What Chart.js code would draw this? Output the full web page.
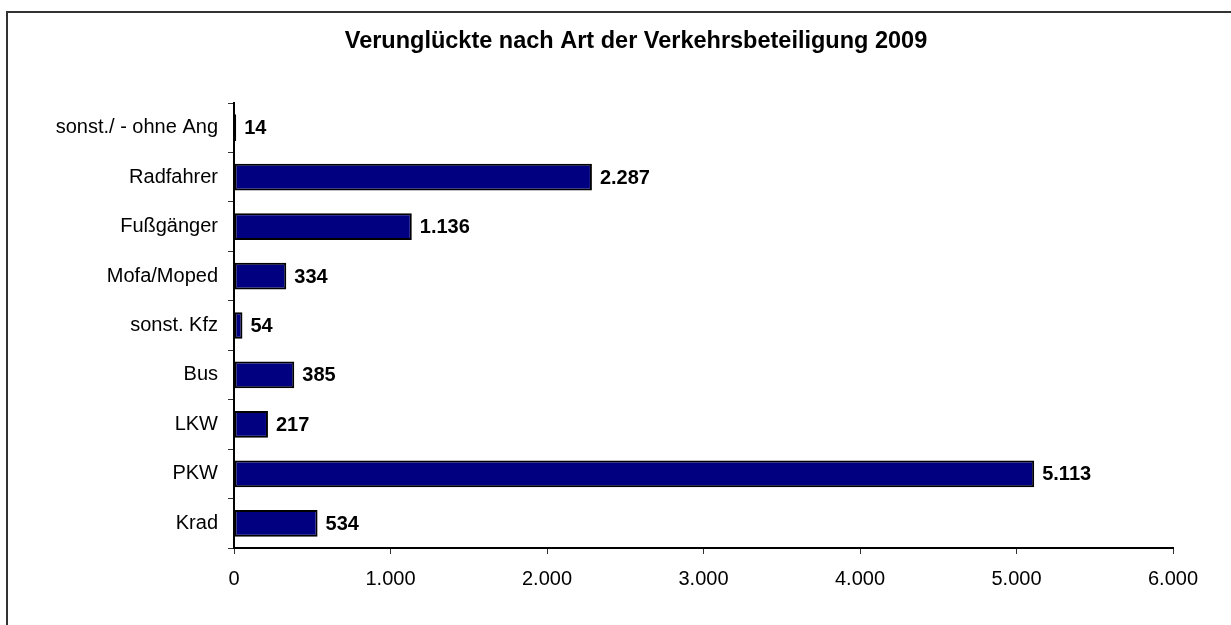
<!DOCTYPE html>
<html>
<head>
<meta charset="utf-8">
<script src="https://cdn.jsdelivr.net/npm/chart.js@4"></script>
<style>
  html, body { margin: 0; padding: 0; background: #fff; overflow: hidden; }
  #wrap { position: relative; width: 1231px; height: 625px; }
  #frame {
    position: absolute; left: 6px; top: 11px; right: -10px; bottom: -10px;
    border-left: 2px solid #333; border-top: 2px solid #333;
  }
  canvas { position: absolute; left: 0; top: 0; }
</style>
</head>
<body>
<div id="wrap">
  <div id="frame"></div>
  <canvas id="chart" width="1231" height="625"></canvas>
</div>
<script>
const categories = [
  "sonst./ - ohne Ang",
  "Radfahrer",
  "Fußgänger",
  "Mofa/Moped",
  "sonst. Kfz",
  "Bus",
  "LKW",
  "PKW",
  "Krad"
];
const values = [14, 2287, 1136, 334, 54, 385, 217, 5113, 534];
const chartTitle = "Verunglückte nach Art der Verkehrsbeteiligung 2009";

const FONT = "'Liberation Sans', Arial, sans-serif";

// German thousands separator
function fmt(v) {
  return String(v).replace(/\B(?=(\d{3})+(?!\d))/g, ".");
}

// title is centred on the whole frame, not on the plot area
const titleText = {
  id: "titleText",
  afterDraw(chart) {
    const ctx = chart.ctx;
    ctx.save();
    ctx.font = "bold 23.5px " + FONT;
    ctx.fillStyle = "#000";
    ctx.textAlign = "center";
    ctx.textBaseline = "alphabetic";
    ctx.fillText(chartTitle, 636, 48);
    ctx.restore();
  }
};

const valueLabels = {
  id: "valueLabels",
  afterDatasetsDraw(chart) {
    const ctx = chart.ctx;
    const meta = chart.getDatasetMeta(0);
    ctx.save();
    ctx.font = "bold 20px " + FONT;
    ctx.fillStyle = "#000";
    ctx.textAlign = "left";
    ctx.textBaseline = "middle";
    meta.data.forEach((bar, i) => {
      ctx.fillText(fmt(values[i]), bar.x + 8, bar.y + 1);
    });
    ctx.restore();
  }
};

new Chart(document.getElementById("chart"), {
  type: "bar",
  data: {
    labels: categories,
    datasets: [
      {
        data: values,
        backgroundColor: "#000080",
        borderColor: "#000",
        borderWidth: 2,
        borderSkipped: false,
        categoryPercentage: 1,
        barPercentage: 0.54,
      },
    ],
  },
  options: {
    indexAxis: "y",
    responsive: false,
    animation: false,
    layout: { padding: { left: 0, right: 58, top: 103, bottom: 0 } },
    scales: {
      x: {
        min: 0,
        max: 6000,
        ticks: {
          stepSize: 1000,
          color: "#000",
          font: { family: FONT, size: 20 },
          padding: 13,
          callback: (v) => fmt(v),
        },
        grid: { drawOnChartArea: false, tickLength: 6, color: "#333" },
        border: { color: "#000", width: 2 },
        afterFit: (s) => { s.height = 77; },
      },
      y: {
        ticks: {
          color: "#000",
          font: { family: FONT, size: 20 },
          padding: 10,
        },
        grid: { drawOnChartArea: false, tickLength: 6, color: "#333", offset: true },
        border: { color: "#000", width: 2 },
        afterFit: (s) => { s.width = 234; },
      },
    },
    plugins: {
      legend: { display: false },
      tooltip: { enabled: false },
      title: { display: false },
    },
  },
  plugins: [valueLabels, titleText],
});
</script>
</body>
</html>
